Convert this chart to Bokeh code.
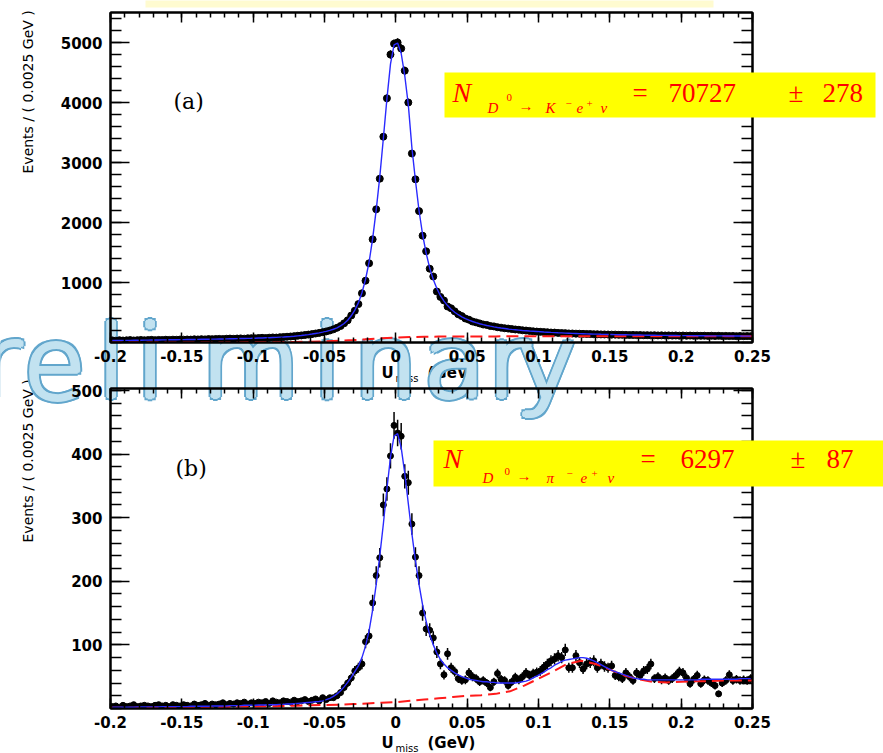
import numpy as np
from bokeh.plotting import figure
from bokeh.models import Range1d, FixedTicker, LinearAxis, Label, BoxAnnotation, GridBox
from bokeh.layouts import column
from bokeh.embed import file_html
from bokeh.resources import INLINE

# ---------------- data ----------------
X_MIN, X_MAX, BIN_WIDTH, N_BINS = -0.2, 0.25, 0.0025, 180
x_tick_labels = ["-0.2", "-0.15", "-0.1", "-0.05", "0", "0.05", "0.1", "0.15", "0.2", "0.25"]
top_y_ticks = [1000, 2000, 3000, 4000, 5000]
bot_y_ticks = [100, 200, 300, 400, 500]

# (a) D0 -> K- e+ nu : events per bin
top_counts = [
    35, 30, 38, 33, 36, 40, 34, 38, 42, 37,
    40, 44, 39, 43, 41, 46, 43, 47, 45, 49,
    47, 50, 48, 53, 51, 55, 52, 57, 55, 58,
    60, 57, 62, 65, 61, 66, 68, 64, 70, 72,
    70, 75, 78, 74, 80, 84, 82, 88, 92, 96,
    100, 106, 112, 118, 125, 132, 140, 150, 160, 172,
    185, 200, 220, 245, 275, 320, 370, 450, 530, 640,
    820, 1030, 1320, 1720, 2220, 2730, 3430, 4070, 4800, 4980,
    5000, 4900, 4530, 4000, 3150, 2720, 2190, 1780, 1520, 1230,
    1100, 850, 760, 700, 600, 570, 520, 470, 440, 400,
    380, 350, 335, 318, 300, 292, 275, 268, 255, 247,
    238, 232, 224, 217, 212, 204, 199, 193, 186, 182,
    178, 174, 171, 166, 165, 160, 157, 156, 151, 150,
    147, 146, 144, 142, 141, 138, 137, 135, 134, 133,
    131, 131, 128, 128, 127, 125, 126, 123, 124, 121,
    122, 119, 121, 118, 119, 117, 118, 115, 117, 114,
    116, 113, 115, 112, 114, 111, 113, 110, 112, 109,
    111, 108, 110, 107, 109, 106, 108, 105, 107, 106,
]
top_fit = [
    33, 34, 34, 35, 36, 36, 37, 38, 38, 39,
    40, 41, 41, 42, 43, 44, 45, 46, 47, 48,
    48, 49, 50, 51, 52, 53, 54, 55, 56, 57,
    58, 59, 60, 62, 63, 64, 66, 67, 69, 70,
    72, 74, 76, 78, 80, 83, 86, 89, 92, 96,
    100, 105, 111, 117, 124, 132, 141, 151, 161, 173,
    186, 202, 221, 245, 276, 316, 370, 445, 540, 660,
    830, 1050, 1340, 1730, 2210, 2760, 3400, 4060, 4640, 4960,
    4990, 4820, 4450, 3960, 3250, 2700, 2200, 1800, 1490, 1240,
    1050, 900, 780, 690, 615, 555, 505, 463, 428, 398,
    372, 350, 330, 313, 298, 284, 272, 261, 251, 242,
    234, 226, 219, 213, 207, 201, 196, 191, 187, 183,
    179, 175, 172, 168, 165, 162, 160, 157, 155, 152,
    150, 148, 146, 144, 142, 140, 139, 137, 136, 134,
    133, 132, 130, 129, 128, 127, 126, 125, 124, 123,
    122, 121, 120, 119, 119, 118, 117, 117, 116, 115,
    115, 114, 114, 113, 113, 112, 112, 111, 111, 110,
    110, 110, 109, 109, 108, 108, 108, 107, 107, 107,
]
# (b) D0 -> pi- e+ nu : events per bin
bot_counts = [
    3, 4, 2, 5, 3, 4, 6, 3, 4, 5,
    4, 3, 5, 6, 4, 5, 3, 6, 5, 4,
    6, 5, 4, 7, 5, 6, 8, 5, 7, 6,
    7, 9, 6, 8, 7, 9, 8, 10, 7, 9,
    8, 10, 9, 11, 8, 12, 10, 9, 12, 11,
    10, 13, 11, 12, 14, 11, 13, 15, 12, 17,
    14, 17, 17, 20, 25, 33, 40, 48, 59, 64,
    70, 105, 114, 166, 209, 237, 320, 345, 397, 445,
    433, 428, 365, 355, 290, 238, 209, 150, 125, 123,
    111, 89, 70, 53, 86, 64, 58, 47, 44, 45,
    56, 50, 47, 42, 44, 40, 33, 42, 55, 46,
    44, 36, 42, 49, 45, 50, 56, 52, 55, 57,
    59, 65, 70, 75, 78, 83, 80, 92, 64, 64,
    83, 72, 62, 70, 72, 75, 64, 70, 66, 64,
    67, 52, 50, 47, 56, 50, 44, 56, 52, 59,
    62, 70, 47, 50, 45, 48, 44, 47, 52, 58,
    56, 48, 39, 46, 52, 39, 45, 44, 40, 36,
    23, 40, 44, 53, 44, 46, 44, 45, 44, 47,
]
bot_fit = [
    2, 2, 2, 2, 2, 2, 2, 2.5, 2.5, 2.5,
    2.5, 2.5, 2.5, 2.5, 3, 3, 3, 3, 3, 3,
    3, 3, 3.5, 3.5, 3.5, 3.5, 3.5, 3.5, 4, 4,
    4, 4, 4, 4.5, 4.5, 4.5, 4.5, 5, 5, 5,
    5, 5.5, 5.5, 5.5, 6, 6, 6, 6.5, 6.5, 7,
    7, 7.5, 8, 8.5, 9, 9.5, 10, 10.5, 11, 12,
    14, 16, 19, 23, 28, 34, 41, 49, 58, 67,
    80, 98, 122, 155, 195, 240, 290, 345, 395, 428,
    432, 410, 370, 322, 275, 232, 195, 163, 137, 116,
    100, 87, 77, 70, 64, 60, 56, 53, 50, 48,
    46, 45, 44, 43, 42, 42, 41, 41, 40, 40,
    40, 40, 40, 40, 41, 42, 43, 45, 48, 51,
    54, 57, 61, 64, 68, 71, 74, 76, 77, 78,
    79, 80, 80, 79, 77, 75, 72, 69, 66, 63,
    60, 58, 56, 54, 52, 50, 48, 47, 46, 46,
    45, 45, 45, 45, 45, 45, 45, 45, 45, 45,
    45, 45, 45, 45, 45, 46, 46, 46, 46, 46,
    46, 46, 46, 46, 46, 46, 47, 47, 47, 47,
]
# background components, sampled every 0.01 GeV from -0.2 to 0.25
bkg_x = [round(X_MIN + 0.01 * k, 2) for k in range(46)]
top_bkg = [0, 0, 0, 0, 0.5, 0.5, 1, 1, 1.5, 2,
           3, 4, 6, 9, 13, 19, 28, 40, 55, 70,
           82, 90, 95, 98, 100, 101, 102, 102, 103, 103,
           104, 104, 105, 105, 105, 105, 105, 105, 105, 105,
           105, 105, 106, 106, 106, 106]
bot_bkg = [1, 1, 1, 1.5, 1.5, 2, 2, 2.5, 2.5, 3,
           3, 3.5, 4, 4.5, 5, 5.5, 6, 7, 8, 9,
           10, 12, 14, 16, 18, 20, 21, 23, 27, 36,
           47, 58, 70, 75, 70, 61, 52, 46, 42, 41,
           42, 43, 43, 44, 44, 44]

assert len(top_counts) == len(top_fit) == len(bot_counts) == len(bot_fit) == N_BINS
assert len(top_bkg) == len(bot_bkg) == len(bkg_x)

bin_x = np.array([X_MIN + BIN_WIDTH * (i + 0.5) for i in range(N_BINS)])

# ---------------- layout constants ----------------
W, H = 883, 753
FRAME_RIGHT = 752
RED = "#ff0000"
SERIF = "Liberation Serif"
BASELINE_SHIFT = 0.37  # em; compensates the renderer's alphabetic-baseline offset


def style_axis(ax, major_in, minor_in, labels, standoff=6):
    ax.axis_line_color = "black"
    ax.axis_line_width = 2
    ax.major_tick_in = major_in
    ax.major_tick_out = 0
    ax.minor_tick_in = minor_in
    ax.minor_tick_out = 0
    ax.major_tick_line_width = 1.5
    ax.minor_tick_line_width = 1.5
    ax.major_tick_line_color = "black"
    ax.minor_tick_line_color = "black"
    ax.axis_label = None
    if labels:
        ax.major_label_text_font = "DejaVu Sans"
        ax.major_label_text_font_style = "bold"
        ax.major_label_text_font_size = "15px"
        ax.major_label_text_color = "black"
        ax.major_label_standoff = standoff
    else:
        ax.major_label_text_font_size = "0px"
        ax.major_label_text_color = None
        ax.major_label_standoff = 0


def make_panel(height, frame_left, border_top, border_bottom, ymax, yticks, yminor_step):
    p = figure(width=W, height=height, x_range=Range1d(X_MIN, X_MAX), y_range=Range1d(0, ymax),
               output_backend="svg", toolbar_location=None,
               min_border_left=frame_left, min_border_right=W - FRAME_RIGHT,
               min_border_top=border_top, min_border_bottom=border_bottom)
    p.grid.visible = False
    p.outline_line_color = "black"
    p.outline_line_width = 2
    p.background_fill_color = None
    p.border_fill_color = None

    xt = [float(s) for s in x_tick_labels]
    xminor = [round(X_MIN + 0.01 * k, 2) for k in range(46)]
    yminor = list(range(0, int(ymax) + 1, yminor_step))

    xa = p.xaxis[0]
    xa.ticker = FixedTicker(ticks=xt, minor_ticks=xminor)
    xa.major_label_overrides = dict(zip(xt, x_tick_labels))
    style_axis(xa, 10, 5, True, 7)

    ya = p.yaxis[0]
    ya.ticker = FixedTicker(ticks=yticks, minor_ticks=yminor)
    style_axis(ya, 19, 11, True, 8)

    top_ax = LinearAxis(ticker=FixedTicker(ticks=xt, minor_ticks=xminor))
    style_axis(top_ax, 10, 5, False)
    p.add_layout(top_ax, "above")
    right_ax = LinearAxis(ticker=FixedTicker(ticks=yticks, minor_ticks=yminor))
    style_axis(right_ax, 19, 11, False)
    p.add_layout(right_ax, "right")
    return p


def draw_data(p, counts, fit, bkg, size):
    y = np.array(counts, dtype=float)
    err = np.sqrt(y)
    p.segment(x0=bin_x, y0=y - err, x1=bin_x, y1=y + err, line_color="black", line_width=1.5)
    p.scatter(bin_x, y, size=size, fill_color="black", line_color="black")
    p.line(bkg_x, bkg, line_color="#ff1a1a", line_width=2, line_dash="12 6")
    p.line(bin_x, fit, line_color="#2a2aff", line_width=1.4)


def page_fig(fill):
    """A full-page layer whose data coordinates are page pixels (y downwards)."""
    f = figure(width=W, height=H, x_range=Range1d(0, W), y_range=Range1d(H, 0),
               output_backend="svg", toolbar_location=None,
               x_axis_type=None, y_axis_type=None, min_border=0)
    f.grid.visible = False
    f.outline_line_color = None
    f.background_fill_color = fill
    f.border_fill_color = fill
    return f


def txt(f, cx, cy, text, size, font="DejaVu Sans", style="normal", color="black",
        align="left", angle=0):
    """Place text with its baseline at page pixel (cx, cy)."""
    if angle == 90:
        cx = cx - BASELINE_SHIFT * size
    else:
        cy = cy - BASELINE_SHIFT * size
    f.add_layout(Label(x=round(cx, 1), y=round(cy, 1), text=text, text_font=font,
                       text_font_size=f"{size}px", text_font_style=style, text_color=color,
                       text_align=align, text_baseline="alphabetic", angle=angle,
                       angle_units="deg"))


def rect(f, x0, y0, x1, y1, color):
    f.add_layout(BoxAnnotation(left=x0, right=x1, top=y0, bottom=y1,
                               fill_color=color, fill_alpha=1.0, line_color=None))


# ---------------- back layer: titles under the watermark, watermark ----------------
back = page_fig("white")
rect(back, 145, -20, 713, 7, "#fffbd0")
txt(back, 33, 173, "Events / ( 0.0025 GeV )", 14, angle=90)
txt(back, 33, 542, "Events / ( 0.0025 GeV )", 14, angle=90)
txt(back, 381, 378, "U", 15, style="bold")
txt(back, 395, 382, "miss", 10)
txt(back, 427, 378, "(GeV)", 15, style="bold")

wm_letters = ["P", "r", "e", "l", "i", "m", "i", "n", "a", "r", "y"]
wm_centers = [-56, 0, 54, 111, 150, 250, 327, 385, 454, 508, 546]
WM_SIZE, WM_BASE = 100, 399
ring = [(4.5, 0), (-4.5, 0), (0, 4.0), (0, -4.0), (3.4, 3.0), (-3.4, 3.0), (3.4, -3.0), (-3.4, -3.0)]
core = [(0, 0), (2.6, 0), (-2.6, 0), (0, 1.8), (0, -1.8), (1.8, 1.3), (-1.8, 1.3), (1.8, -1.3), (-1.8, -1.3)]
for dx, dy in ring:
    for ch, cx in zip(wm_letters, wm_centers):
        txt(back, cx + dx, WM_BASE + dy, ch, WM_SIZE, color="#62a6cc", align="center")
for dx, dy in core:
    for ch, cx in zip(wm_letters, wm_centers):
        txt(back, cx + dx, WM_BASE + dy, ch, WM_SIZE, color="#c2e2f0", align="center")

# ---------------- panels ----------------
top = make_panel(384, 108, 12, 42, 5500, top_y_ticks, 200)
draw_data(top, top_counts, top_fit, top_bkg, 7)
bot = make_panel(369, 110, 4, 45, 503, bot_y_ticks, 20)
draw_data(bot, bot_counts, bot_fit, bot_bkg, 6)
panels = column(top, bot, spacing=0)

# ---------------- front layer: annotations ----------------
front = page_fig(None)
txt(front, 173, 109, "(a)", 22, font="DejaVu Serif")
txt(front, 175, 476, "(b)", 22, font="DejaVu Serif")
txt(front, 381, 748, "U", 15, style="bold")
txt(front, 395, 752, "miss", 10)
txt(front, 427, 748, "(GeV)", 15, style="bold")

rect(front, 444, 72, 875, 117, "#ffff00")
for t, cx, cy, s, st in [
    ("N", 452, 102, 28, "italic"), ("D", 487, 113, 15, "italic"), ("0", 506, 101, 11, "normal"),
    ("\u2192", 518, 111, 15, "normal"), ("K", 545, 113, 15, "italic"), ("\u2212", 565, 107, 11, "normal"),
    ("e", 576, 113, 15, "italic"), ("+", 586, 107, 11, "normal"), ("\u03bd", 600, 113, 15, "italic"),
    ("=", 632, 102, 27, "normal"), ("70727", 668, 102, 27, "normal"),
    ("\u00b1", 788, 102, 27, "normal"), ("278", 822, 102, 27, "normal")]:
    txt(front, cx, cy, t, s, font=SERIF, style=st, color=RED)

rect(front, 433, 440, 883, 486, "#ffff00")
for t, cx, cy, s, st in [
    ("N", 443, 468, 28, "italic"), ("D", 482, 483, 15, "italic"), ("0", 504, 475, 11, "normal"),
    ("\u2192", 516, 481, 15, "normal"), ("\u03c0", 546, 483, 15, "italic"), ("\u2212", 566, 477, 11, "normal"),
    ("e", 580, 483, 15, "italic"), ("+", 591, 477, 11, "normal"), ("\u03bd", 607, 483, 15, "italic"),
    ("=", 640, 468, 27, "normal"), ("6297", 680, 468, 27, "normal"),
    ("\u00b1", 790, 468, 27, "normal"), ("87", 826, 468, 27, "normal")]:
    txt(front, cx, cy, t, s, font=SERIF, style=st, color=RED)

# stack the three layers in the same grid cell
layout = GridBox(children=[(back, 0, 0), (panels, 0, 0), (front, 0, 0)])
open("out.html", "w").write(file_html(layout, INLINE))
